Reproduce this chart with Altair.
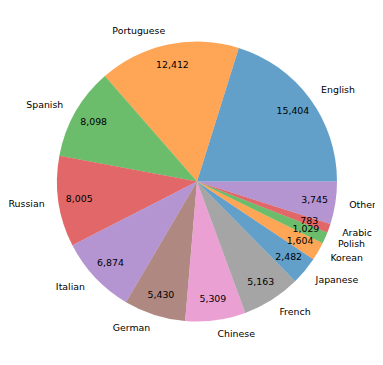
import math
import altair as alt
import pandas as pd

languages = ["English", "Portuguese", "Spanish", "Russian", "Italian", "German",
             "Chinese", "French", "Japanese", "Korean", "Polish", "Arabic", "Other"]
counts = [15404, 12412, 8098, 8005, 6874, 5430, 5309, 5163, 2482, 1604, 1029, 783, 3745]
palette = ["#1f77b4", "#ff7f0e", "#2ca02c", "#d62728", "#9467bd", "#8c564b", "#e377c2", "#7f7f7f"]

total = sum(counts)
df = pd.DataFrame({"language": languages, "count": counts, "order": list(range(len(languages)))})

theta_scale = alt.Scale(domain=[0, total], range=[2.5 * math.pi, 0.5 * math.pi])
colors = [palette[i % len(palette)] for i in range(len(languages))]
FONT = "DejaVu Sans"
FS = 9.4
R = 140

base = alt.Chart(df).transform_window(
    end="sum(count)", sort=[alt.SortField("order")], frame=[None, 0]
).transform_calculate(
    start="datum.end - datum.count",
    mid="datum.end - datum.count / 2",
    side=f"cos(2 * PI * datum.mid / {total}) >= 0 ? 'r' : 'l'",
)

arcs = base.mark_arc(outerRadius=R, opacity=0.7).encode(
    theta=alt.Theta("start:Q", scale=theta_scale, stack=None),
    theta2="end:Q",
    color=alt.Color("language:N", scale=alt.Scale(domain=languages, range=colors), legend=None),
)

values = base.mark_text(radius=R * 0.85, font=FONT, fontSize=FS, color="black").encode(
    theta=alt.Theta("mid:Q", scale=theta_scale, stack=None),
    text=alt.Text("count:Q", format=","),
)

labels_r = base.transform_filter("datum.side == 'r'").mark_text(
    radius=R * 1.1, font=FONT, fontSize=FS, color="black", align="left"
).encode(
    theta=alt.Theta("mid:Q", scale=theta_scale, stack=None),
    text="language:N",
)

labels_l = base.transform_filter("datum.side == 'l'").mark_text(
    radius=R * 1.1, font=FONT, fontSize=FS, color="black", align="right"
).encode(
    theta=alt.Theta("mid:Q", scale=theta_scale, stack=None),
    text="language:N",
)

chart = alt.layer(arcs, values, labels_r, labels_l).properties(
    width=356,
    height=343,
    padding={"left": 11, "top": 2, "right": 0, "bottom": 0},
    autosize=alt.AutoSizeParams(type="none"),
).configure_view(stroke=None)

chart.save("out.html", embed_options={"renderer": "svg", "actions": False})
